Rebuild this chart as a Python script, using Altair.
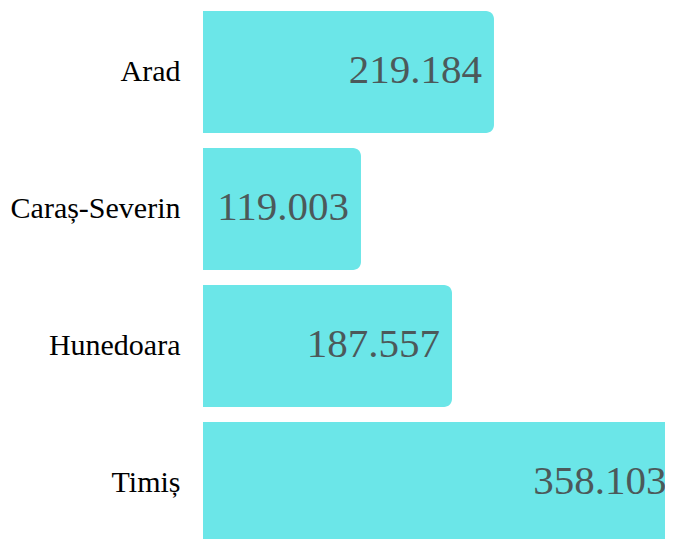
import altair as alt
import pandas as pd

regions = ["Arad", "Caraș-Severin", "Hunedoara", "Timiș"]
values = [219.184, 119.003, 187.557, 358.103]
labels = ["219.184", "119.003", "187.557", "358.103"]

df = pd.DataFrame({"region": regions, "value": values, "label": labels})

y = alt.Y("region:N", sort=regions, title=None,
          scale=alt.Scale(paddingInner=0.11, paddingOuter=0),
          axis=alt.Axis(domain=False, ticks=False, labelFont="Liberation Serif",
                        labelFontSize=30, labelColor="#000000", labelPadding=23))
x = alt.X("value:Q", title=None, axis=None,
          scale=alt.Scale(domain=[0, 348], nice=False, zero=True))

bars = alt.Chart(df).mark_bar(color="#6be6e8", cornerRadiusEnd=8).encode(x=x, y=y)
text = alt.Chart(df).mark_text(align="right", baseline="middle", dx=-12, dy=-1,
                               font="Liberation Serif", fontSize=41,
                               color="#4c595a").encode(x=x, y=y, text="label:N")

chart = (bars + text).properties(
    width=462, height=533,
    autosize=alt.AutoSizeParams(type="none"),
    padding={"left": 195, "top": 3, "right": 0, "bottom": -5},
).configure_view(stroke=None)

chart.save("out.html", embed_options={"renderer": "svg", "actions": False})
